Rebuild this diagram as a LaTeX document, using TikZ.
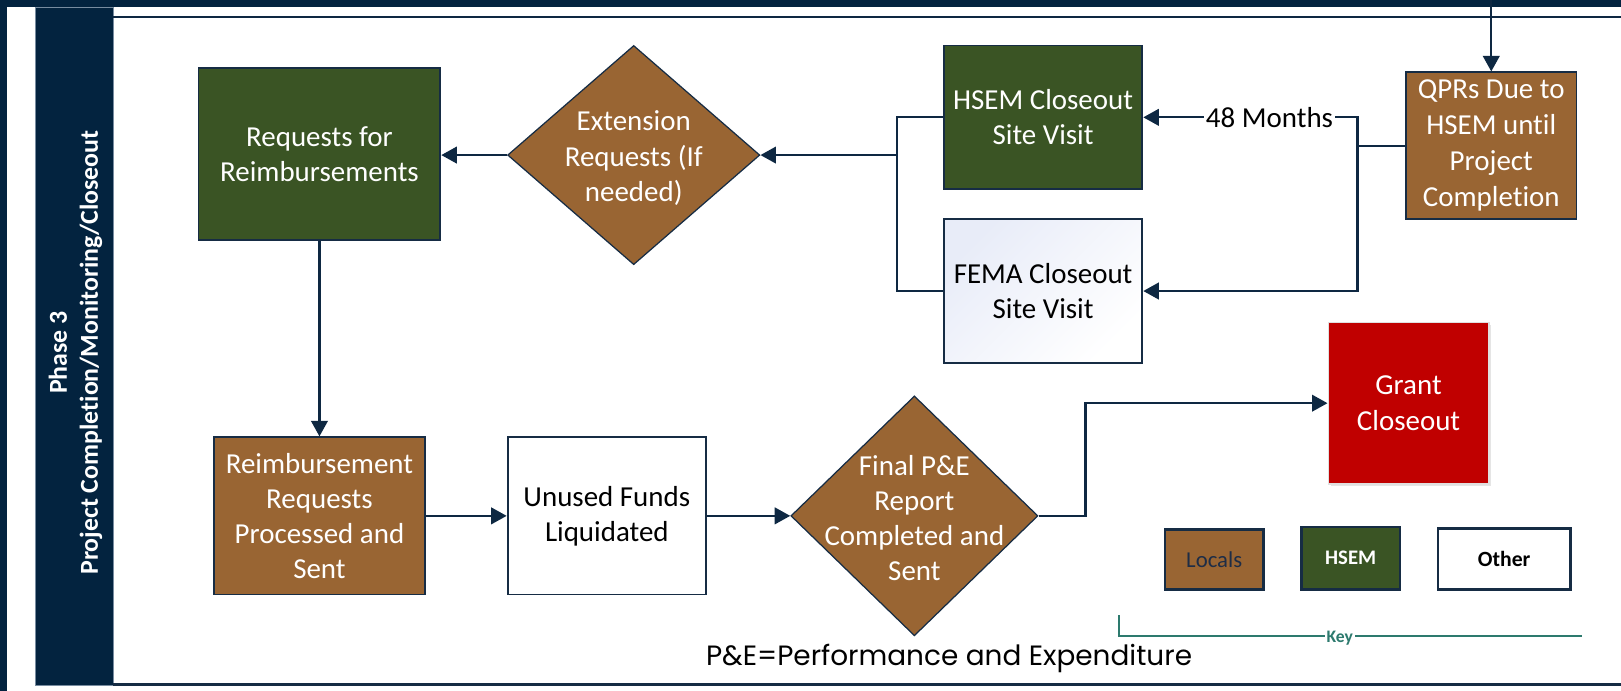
\documentclass[tikz,border=0pt]{standalone}
\usepackage{fontspec}
\setmainfont{Carlito}[Ligatures=NoCommon]
\newfontfamily\pefont{Poppins}
\usetikzlibrary{shapes.geometric,arrows.meta,shadows}
\definecolor{navy}{RGB}{3,35,63}
\definecolor{hsemg}{RGB}{58,84,36}
\definecolor{locb}{RGB}{153,101,51}
\definecolor{gred}{RGB}{192,0,0}
\definecolor{linec}{RGB}{14,40,66}
\definecolor{bordc}{RGB}{22,44,68}
\definecolor{keyc}{RGB}{45,122,110}
\definecolor{femab}{RGB}{232,236,248}
\definecolor{bandedge}{RGB}{120,140,160}
\definecolor{loctext}{RGB}{30,45,70}
\begin{document}
\begin{tikzpicture}[x=0.5pt,y=-0.5pt,
  box/.style={rectangle, draw=bordc, line width=0.9pt, inner sep=0pt, align=center, font=\fontsize{14}{17}\selectfont},
  gbox/.style={box, fill=hsemg, text=white},
  bbox/.style={box, fill=locb, text=white},
  wbox/.style={box, fill=white, text=black},
  dia/.style={diamond, draw=bordc, line width=0.6pt, fill=locb, inner sep=0pt},
  dtext/.style={align=center, text=white, font=\fontsize{14}{17}\selectfont, inner sep=0pt},
  arr/.style={draw=linec, line width=1.1pt, -{Triangle[length=7.5pt,width=8pt]}},
  ln/.style={draw=linec, line width=1.1pt},
  keybox/.style={rectangle, draw=bordc, line width=1.2pt, inner sep=0pt, align=center},
]
\useasboundingbox (0,0) rectangle (1568,668.4);
\fill[white] (0,0) rectangle (1568,668.4);
% frame
\fill[navy] (0,0) rectangle (1568,6.8);
\fill[navy] (0,0) rectangle (6.8,668.4);
\filldraw[fill=navy, draw=bandedge, line width=0.4pt] (33.9,6.8) rectangle (109.3,662.6);
\draw[linec, line width=1pt] (109.3,16) -- (1568,16);
\draw[bordc, line width=1.2pt] (109.3,662) -- (1568,662);

\node[rotate=90, text=white, align=center, font=\bfseries\fontsize{12.5}{15}\selectfont] (phase) at (73,341) {Phase 3\\Project Completion/Monitoring/Closeout};

% nodes
\node[gbox, minimum width=117pt, minimum height=83pt] (req) at (309,149) {Requests for\\Reimbursements};
\node[dia, minimum width=122pt, minimum height=106pt] (ext) at (613,150) {};
\node[dtext, yshift=-1.5pt] (extT) at (ext.center) {Extension\\Requests (If\\needed)};
\node[gbox, minimum width=96pt, minimum height=69.5pt] (hsem) at (1009,113.5) {HSEM Closeout\\Site Visit};
\node[wbox, minimum width=96pt, minimum height=69.5pt, shading=axis, top color=femab, middle color=white, bottom color=white, shading angle=45] (fema) at (1009,281.5) {FEMA Closeout\\Site Visit};
\node[bbox, minimum width=82.5pt, minimum height=71pt, font=\fontsize{14}{17.4}\selectfont] (qpr) at (1442.5,141) {QPRs Due to\\HSEM until\\Project\\Completion};
\node[bbox, minimum width=102pt, minimum height=76pt] (rrp) at (309,499) {Reimbursement\\Requests\\Processed and\\Sent};
\node[wbox, minimum width=96pt, minimum height=76pt] (unused) at (587,499) {Unused Funds\\Liquidated};
\node[dia, minimum width=119.5pt, minimum height=116pt] (fin) at (884.5,499) {};
\node[dtext, yshift=-1pt] (finT) at (fin.center) {Final P\&E\\Report\\Completed and\\Sent};
\node[box, fill=gred, draw=black!12, text=white, minimum width=77.5pt, minimum height=78pt, drop shadow={opacity=0.2, shadow xshift=1pt, shadow yshift=-1pt}] (grant) at (1362.5,390) {Grant\\Closeout};

% legend
\node[keybox, fill=locb, text=loctext, minimum width=47.5pt, minimum height=29pt, font=\fontsize{11}{13}\selectfont] (kloc) at (1174.5,541) {Locals};
\node[keybox, fill=hsemg, text=white, minimum width=47.5pt, minimum height=30pt, font=\bfseries\fontsize{10}{12}\selectfont] (khsem) at (1306.5,540) {HSEM};
\node[keybox, fill=white, text=black, minimum width=64pt, minimum height=29.5pt, font=\bfseries\fontsize{10.5}{12}\selectfont] (koth) at (1455,540.5) {Other};
\coordinate (kA) at (1082,595);
\coordinate (kB) at (1530,615);
\draw[keyc, line width=1pt] (kA) |- (kB);
\node[text=keyc, fill=white, inner sep=1pt, font=\bfseries\fontsize{8.5}{10}\selectfont] (keyl) at (1296,617) {Key};

\node[font=\pefont\fontsize{13.5}{16}\selectfont, inner sep=0pt] (pe) at (918,637) {P\&E=Performance and Expenditure};

% connectors
\coordinate (topin) at (1442.5,0);
\draw[arr] (topin) -- (qpr.north);
\coordinate (jr) at (1313,141);
\draw[ln] (qpr.west) -- (jr);
\draw[arr] (jr) |- (hsem.east);
\draw[arr] (jr) |- (fema.east);
\node[fill=white, inner sep=1pt, font=\fontsize{14}{17}\selectfont] (m48) at (1228,113.5) {48 Months};
\coordinate (jl) at (868,150);
\draw[ln] (hsem.west) -| (jl);
\draw[ln] (fema.west) -| (jl);
\draw[arr] (jl) -- (ext.east);
\draw[arr] (ext.west) -- (ext.west -| req.east);
\draw[arr] (req.south) -- (rrp.north);
\draw[arr] (rrp.east) -- (unused.west);
\draw[arr] (unused.east) -- (fin.west);
\coordinate (jg) at (1050,499);
\draw[arr] (fin.east) -- (jg) |- (grant.west);
\end{tikzpicture}
\end{document}
